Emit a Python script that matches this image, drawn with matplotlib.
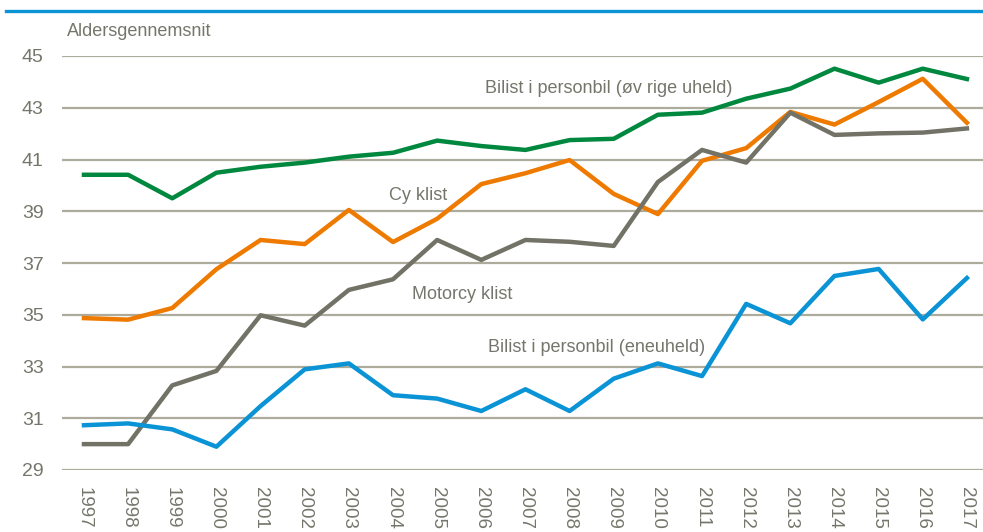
import matplotlib
matplotlib.use("Agg")
import matplotlib.pyplot as plt
from matplotlib import font_manager

years = [str(y) for y in range(1997, 2018)]

bilist_ovrige = [40.41, 40.41, 39.50, 40.49, 40.72, 40.88, 41.11, 41.26, 41.73, 41.52, 41.37,
                 41.75, 41.80, 42.73, 42.81, 43.35, 43.74, 44.51, 43.97, 44.51, 44.11]
cyklist = [34.87, 34.81, 35.26, 36.76, 37.89, 37.73, 39.05, 37.81, 38.71, 40.05, 40.47,
           40.98, 39.67, 38.89, 40.95, 41.44, 42.84, 42.35, 43.22, 44.12, 42.42]
motorcyklist = [30.00, 30.00, 32.27, 32.83, 34.98, 34.58, 35.96, 36.37, 37.89, 37.12, 37.89,
                37.82, 37.66, 40.13, 41.37, 40.88, 42.81, 41.95, 42.01, 42.04, 42.20]
bilist_eneuheld = [30.73, 30.80, 30.57, 29.90, 31.47, 32.89, 33.12, 31.89, 31.76, 31.28, 32.12,
                   31.28, 32.53, 33.12, 32.63, 35.42, 34.67, 36.50, 36.77, 34.82, 36.42]

yticks = [29, 31, 33, 35, 37, 39, 41, 43, 45]

names = {f.name for f in font_manager.fontManager.ttflist}
fam = 'Liberation Sans Narrow' if 'Liberation Sans Narrow' in names else 'Liberation Sans'
plt.rcParams['font.family'] = [fam, 'DejaVu Sans']

TXT = '#75766B'
GRID = '#ADAB9C'

W, H = 983, 532
fig = plt.figure(figsize=(W / 100, H / 100), dpi=100)
x0 = 61.9 / W
x1 = 989.0 / W
ybot = (H - 470) / H
ytop = (H - 56) / H
ax = fig.add_axes([x0, ybot, x1 - x0, ytop - ybot])

x = list(range(len(years)))
lw = 3.2
ax.plot(x, bilist_ovrige, color='#00883F', lw=lw, solid_joinstyle='round', zorder=3)
ax.plot(x, cyklist, color='#EE7A00', lw=lw, solid_joinstyle='round', zorder=3)
ax.plot(x, motorcyklist, color='#727267', lw=lw, solid_joinstyle='round', zorder=3)
ax.plot(x, bilist_eneuheld, color='#0A93D5', lw=lw, solid_joinstyle='round', zorder=3)

ax.set_xlim(-0.5, len(years) - 0.5)
ax.set_ylim(29, 45)
ax.set_yticks(yticks)
ax.set_yticklabels([str(v) for v in yticks])
ax.set_xticks(x)
ax.set_xticklabels(years, rotation=-90, va='top', ha='center')
ax.tick_params(axis='both', length=0, colors=TXT, labelsize=14)
ax.tick_params(axis='x', pad=12, labelsize=13.5)
ax.tick_params(axis='y', pad=13)
for s in ax.spines.values():
    s.set_visible(False)
ax.grid(axis='y', color=GRID, lw=1.6, zorder=1)
ax.set_axisbelow(True)

fs = 13
ax.text(9.08, 43.74, 'Bilist i personbil (øv rige uheld)', color=TXT, fontsize=fs, va='center', ha='left')
ax.text(6.92, 39.6, 'Cy klist', color=TXT, fontsize=fs, va='center', ha='left')
ax.text(7.42, 35.8, 'Motorcy klist', color=TXT, fontsize=fs, va='center', ha='left')
ax.text(9.15, 33.72, 'Bilist i personbil (eneuheld)', color=TXT, fontsize=fs, va='center', ha='left')

fig.text(67 / W, (H - 32) / H, 'Aldersgennemsnit', color=TXT, fontsize=13, va='center', ha='left')

fig.add_artist(plt.Line2D([6 / W, 1.0], [(H - 10.5) / H] * 2, color='#0A93D5', lw=2.4))

fig.savefig('out.png', dpi=100)
